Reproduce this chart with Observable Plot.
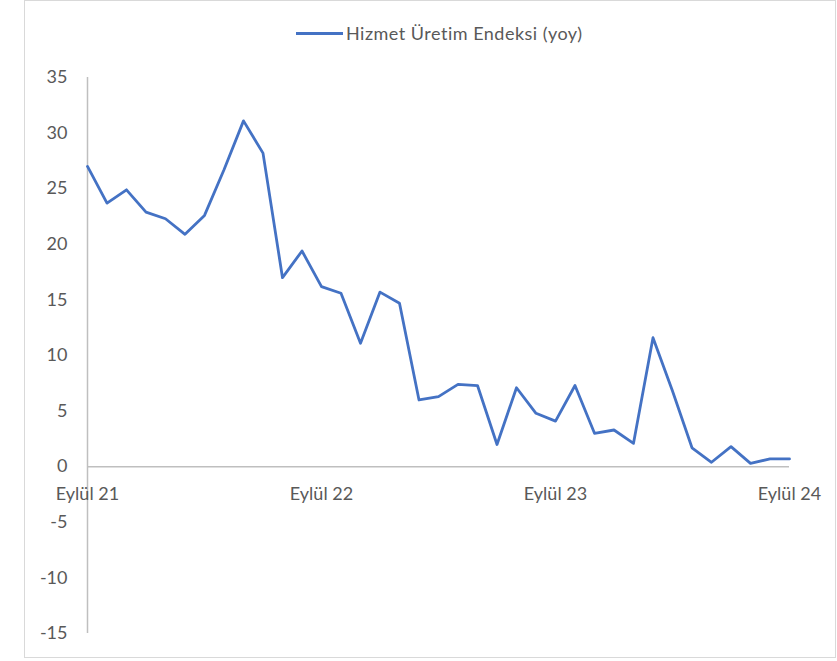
<!DOCTYPE html>
<html><head><meta charset="utf-8">
<script src="https://cdn.jsdelivr.net/npm/d3@7"></script>
<script src="https://cdn.jsdelivr.net/npm/@observablehq/plot@0.6"></script>
<style>
body{margin:0;background:#fff;font-family:Lato,"Open Sans",sans-serif;font-variant-ligatures:none;}
#wrap{position:relative;width:837px;height:661px;overflow:hidden;background:#fff;}
#frame{position:absolute;left:24px;top:0;width:812px;height:658px;border:1px solid #d9d9d9;box-sizing:border-box;}
#legend{position:absolute;top:21px;left:296px;height:24px;display:flex;align-items:center;font-size:18px;letter-spacing:0.5px;color:#595959;white-space:nowrap;}
#legend .sw{width:47px;height:3px;background:#4472c4;margin-right:3px;}
#chart{position:absolute;left:0;top:60px;}
svg text{font-variant-ligatures:none;}
</style>
</head><body>
<div id="wrap">
  <div id="frame"></div>
  <div id="legend"><span class="sw"></span><span>Hizmet Üretim Endeksi (yoy)</span></div>
  <div id="chart"></div>
</div>
<script>
// Hizmet Üretim Endeksi (yoy), monthly, Eylül 2021 – Eylül 2024
const seriesName = "Hizmet Üretim Endeksi (yoy)";
const values = [27.0,23.7,24.9,22.9,22.3,20.9,22.6,26.7,31.1,28.2,17.0,19.4,
                16.2,15.6,11.1,15.7,14.7,6.0,6.3,7.4,7.3,2.0,7.1,4.8,
                4.1,7.3,3.0,3.3,2.1,11.6,6.8,1.7,0.4,1.8,0.3,0.7,0.7];
const tickLabels = ["Eylül 21","Eylül 22","Eylül 23","Eylül 24"];
const tickIndex = [0,12,24,36];
const yTicks = [-15,-10,-5,0,5,10,15,20,25,30,35];

const data = values.map((v,i)=>({i, v}));
const ticks = tickLabels.map((t,k)=>({label:t, i:tickIndex[k]}));

const chart = Plot.plot({
  width: 837,
  height: 601,
  marginLeft: 87,
  marginRight: 48,
  marginTop: 17,
  marginBottom: 28,
  style: {fontFamily: "Lato, 'Open Sans', sans-serif", color: "#595959", background: "transparent"},
  x: {domain: [0, 36], axis: null},
  y: {domain: [-15, 35], axis: null},
  marks: [
    Plot.ruleX([0], {stroke: "#bfbfbf", strokeWidth: 1.5}),
    Plot.ruleY([0], {stroke: "#bfbfbf", strokeWidth: 1.5}),
    Plot.axisY(yTicks, {tickSize: 0, tickPadding: 20, fontSize: 18, fill: "#595959", label: null, tickFormat: d => String(d)}),
    Plot.line(data, {x: "i", y: "v", stroke: "#4472c4", strokeWidth: 2.8, strokeLinejoin: "round"}),
    Plot.text(ticks, {x: "i", y: () => 0, text: "label", dy: 28, fontSize: 18, fill: "#595959"})
  ]
});
document.getElementById("chart").appendChild(chart);
</script>
</body></html>
